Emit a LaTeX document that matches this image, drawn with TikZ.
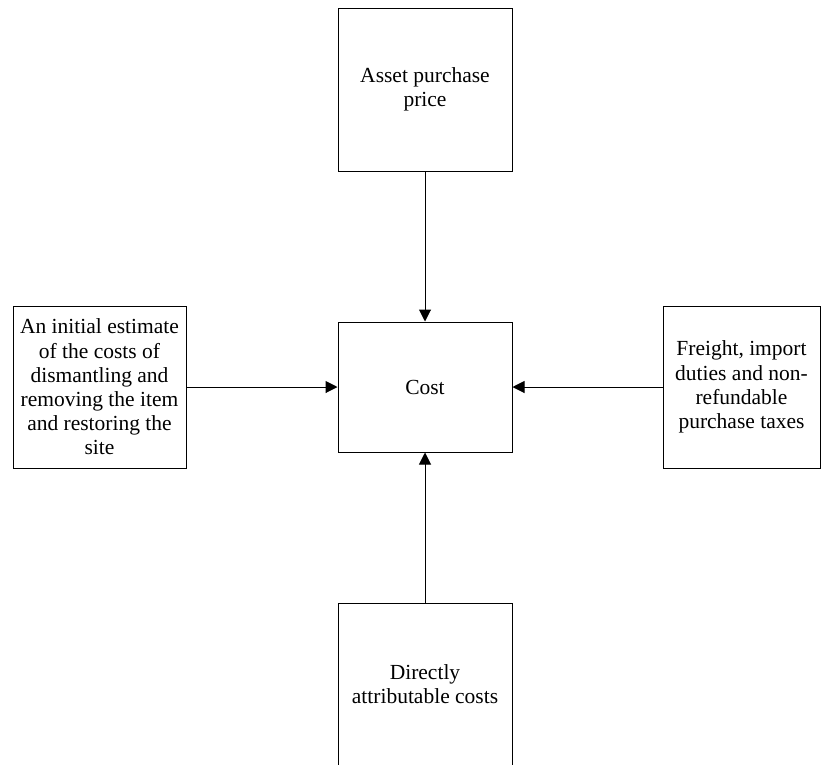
\documentclass[tikz,border=0pt]{standalone}
\usepackage{fontspec}
\setmainfont{Liberation Serif}
\usetikzlibrary{arrows.meta}

\tikzset{
  costbox/.style={draw, line width=1pt, inner sep=0pt, align=center,
    font=\fontsize{21.5pt}{24.2pt}\selectfont},
  flow/.style={line width=1pt, -{Triangle[length=12pt,width=12pt]}}
}

\begin{document}
\begin{tikzpicture}[x=1pt,y=-1pt]
        \clip (0,0) rectangle (824,764);
        \fill[white] (0,0) rectangle (824,764);

        \node[costbox, minimum width=174pt, minimum height=163pt] (price) at (425,89.5) {Asset purchase\\price};
        \node[costbox, minimum width=174pt, minimum height=130pt] (cost) at (425,387) {Cost};
        \node[costbox, minimum width=173pt, minimum height=162pt] (dismantle) at (99.5,387)
            {An initial estimate\\of the costs of\\dismantling and\\removing the item\\and restoring the\\site};
        \node[costbox, minimum width=157pt, minimum height=162pt] (freight) at (741.5,387)
            {Freight, import\\duties and non-\\refundable\\purchase taxes};
        \node[costbox, minimum width=174pt, minimum height=163pt] (direct) at (425,684.5) {Directly\\attributable costs};

        \draw[flow] (price) -- (cost);
        \draw[flow] (dismantle) -- (cost);
        \draw[flow] (freight) -- (cost);
        \draw[flow] (direct) -- (cost);
    \end{tikzpicture}
\end{document}
